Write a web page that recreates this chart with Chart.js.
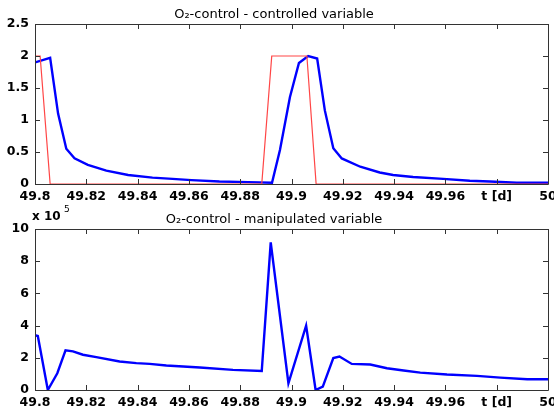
<!DOCTYPE html>
<html>
<head>
<meta charset="utf-8">
<script src="https://cdn.jsdelivr.net/npm/chart.js@4"></script>
<style>
  body { margin: 0; background: #fff; }
  #wrap { position: relative; width: 554px; height: 410px; }
  .box { position: absolute; left: 0; width: 554px; height: 205px; }
</style>
</head>
<body>
<div id="wrap">
  <div class="box" style="top:0"><canvas id="topChart"></canvas></div>
  <div class="box" style="top:205px"><canvas id="bottomChart"></canvas></div>
</div>
<script>
// setpoint (red) of the controlled variable
const setT = [49.8, 49.802, 49.8059, 49.8884, 49.8923, 49.906, 49.9096, 50];
const setV = [2, 2, 0, 0, 2, 2, 0, 0];

// controlled variable (blue, top)
const ctrlT = [49.8, 49.8059, 49.809, 49.8122, 49.8154, 49.8206, 49.8278, 49.8363, 49.8458, 49.8536,
  49.861, 49.8719, 49.883, 49.8924, 49.8955, 49.8994, 49.9029, 49.9065, 49.91, 49.913,
  49.9163, 49.9196, 49.9268, 49.9344, 49.9396, 49.9474, 49.9591, 49.9695, 49.9773, 49.9878, 50];
const ctrlV = [1.9, 1.97, 1.1, 0.55, 0.4, 0.3, 0.21, 0.14, 0.1, 0.08,
  0.06, 0.04, 0.03, 0.02, 0.53, 1.36, 1.89, 2.0, 1.96, 1.15,
  0.56, 0.4, 0.27, 0.18, 0.14, 0.11, 0.08, 0.05, 0.04, 0.02, 0.02];

// manipulated variable (blue, bottom), in units of 1e-5
const manT = [49.8, 49.8011, 49.805, 49.8087, 49.8119, 49.8148, 49.8187, 49.8239, 49.833, 49.8395,
  49.8447, 49.8512, 49.8643, 49.8772, 49.8884, 49.8919, 49.8988, 49.9057, 49.9094, 49.9122,
  49.9163, 49.9187, 49.9235, 49.9307, 49.9372, 49.9437, 49.9502, 49.9606, 49.9723, 49.9814, 49.9919, 50];
const manV = [3.4, 3.35, 0, 1.04, 2.46, 2.4, 2.19, 2.04, 1.77, 1.67,
  1.62, 1.52, 1.4, 1.25, 1.18, 9.17, 0.42, 4.0, 0, 0.21,
  1.98, 2.08, 1.62, 1.58, 1.35, 1.21, 1.08, 0.96, 0.88, 0.77, 0.67, 0.67];

const xTicks = { min: 49.8, max: 50, step: 0.02 };
const topY = { min: 0, max: 2.5, step: 0.5 };
const bottomY = { min: 0, max: 10, step: 2 };

const FONT = "'DejaVu Sans', sans-serif";
const AXIS = '#333';

function pts(xs, ys) {
  return xs.map((x, i) => ({ x: x, y: ys[i] }));
}

function numLabel(value) {
  return String(parseFloat(value.toFixed(2)));
}

function xLabel(value) {
  if (Math.abs(value - 49.98) < 1e-6) return 't [d]';
  return numLabel(value);
}

// force a fixed size for an axis box so both plots line up
function fixed(size, horizontal) {
  return function(scale) {
    if (horizontal) scale.height = size; else scale.width = size;
    scale.paddingLeft = scale.paddingRight = scale.paddingTop = scale.paddingBottom = 0;
  };
}

// matlab style box with inward ticks on all four sides
const boxTicks = {
  id: 'boxTicks',
  afterDraw(chart) {
    const ctx = chart.ctx;
    const a = chart.chartArea;
    const xs = chart.scales.x, ys = chart.scales.y;
    ctx.save();
    ctx.strokeStyle = AXIS;
    ctx.lineWidth = 1;
    ctx.beginPath();
    ctx.rect(Math.round(a.left) + 0.5, Math.round(a.top) + 0.5, Math.round(a.right - a.left), Math.round(a.bottom - a.top));
    xs.ticks.forEach(t => {
      const p = Math.round(xs.getPixelForValue(t.value)) + 0.5;
      ctx.moveTo(p, a.bottom); ctx.lineTo(p, a.bottom - 5);
      ctx.moveTo(p, a.top); ctx.lineTo(p, a.top + 5);
    });
    ys.ticks.forEach(t => {
      const p = Math.round(ys.getPixelForValue(t.value)) + 0.5;
      ctx.moveTo(a.left, p); ctx.lineTo(a.left + 5, p);
      ctx.moveTo(a.right, p); ctx.lineTo(a.right - 5, p);
    });
    ctx.stroke();
    ctx.restore();
  }
};

const tickFont = { family: FONT, size: 12.5, weight: 'bold' };
const noGrid = { display: false, drawTicks: false, tickLength: 0 };

function makeChart(id, datasets, yr, title, xHeight, extra) {
  const el = document.getElementById(id);
  el.width = 554;
  el.height = 205;
  return new Chart(el, {
    type: 'line',
    data: { datasets: datasets },
    options: {
      responsive: false,
      animation: false,
      layout: { padding: { right: 6 } },
      plugins: {
        legend: { display: false },
        tooltip: { enabled: false },
        title: {
          display: true, text: title, color: '#000',
          font: { family: FONT, size: 13, weight: 'normal', lineHeight: 1.2 },
          padding: { top: 7, bottom: 1.4 }
        }
      },
      elements: { point: { radius: 0 } },
      scales: {
        x: {
          type: 'linear', min: xTicks.min, max: xTicks.max,
          border: { display: false },
          grid: noGrid,
          ticks: { stepSize: xTicks.step, color: '#000', padding: 5, maxRotation: 0, autoSkip: false,
                   font: tickFont, callback: xLabel },
          afterFit: fixed(xHeight, true)
        },
        y: {
          min: yr.min, max: yr.max,
          border: { display: false },
          grid: noGrid,
          ticks: { stepSize: yr.step, color: '#000', padding: 6, font: tickFont, callback: numLabel },
          afterFit: fixed(35, false)
        }
      }
    },
    plugins: extra ? [boxTicks, extra] : [boxTicks]
  });
}

makeChart('topChart', [
  { data: pts(setT, setV), borderColor: 'rgb(255,70,70)', borderWidth: 1.2, tension: 0 },
  { data: pts(ctrlT, ctrlV), borderColor: 'rgb(0,0,255)', borderWidth: 2.4, tension: 0 }
], topY, 'O\u2082-control - controlled variable', 21);

// exponent note above the bottom y axis
const exponentNote = {
  id: 'exponentNote',
  afterDraw(chart) {
    const ctx = chart.ctx;
    ctx.save();
    ctx.fillStyle = '#000';
    ctx.textBaseline = 'middle';
    ctx.font = "bold 12px " + FONT;
    ctx.fillText('x 10', 32, 12);
    ctx.font = "9px " + FONT;
    ctx.fillText('5', 64, 5);
    ctx.restore();
  }
};

makeChart('bottomChart', [
  { data: pts(manT, manV), borderColor: 'rgb(0,0,255)', borderWidth: 2.4, tension: 0 }
], bottomY, 'O\u2082-control - manipulated variable', 20, exponentNote);
</script>
</body>
</html>
